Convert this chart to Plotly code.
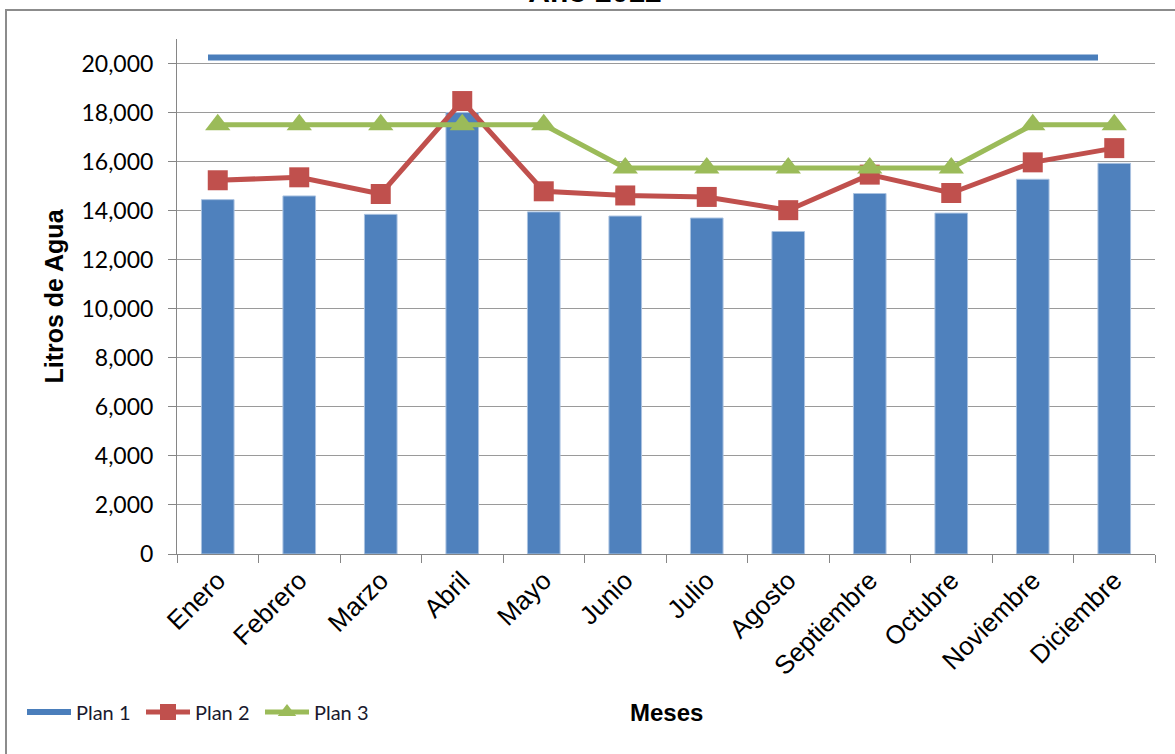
import plotly.graph_objects as go

# Monthly water consumption (litres) and the three plans
meses = ["Enero", "Febrero", "Marzo", "Abril", "Mayo", "Junio", "Julio",
         "Agosto", "Septiembre", "Octubre", "Noviembre", "Diciembre"]
consumo = [14450, 14600, 13850, 18000, 13950, 13780, 13700,
           13150, 14700, 13900, 15280, 15930]
plan_1 = [20250] * 12
plan_2 = [15240, 15360, 14680, 18470, 14790, 14620, 14560,
          14020, 15470, 14720, 15970, 16550]
plan_3 = [17500, 17500, 17500, 17500, 17500, 15740, 15740,
          15740, 15740, 15740, 17500, 17500]
y_ticks = list(range(0, 20001, 2000))

W, H = 1175, 754
ML, MR, MT, MB = 177, 20, 39, 200
PW, PH = W - ML - MR, H - MT - MB


def px_x(p):
    return (p - ML) / PW


def px_y(p):
    return (H - MB - p) / PH


# Plan 1 sits on its own category axis, spanning 208..1098 px
p1_step = (1098 - 208) / 11
p1_range = [-(208 - ML) / p1_step, 11 + (ML + PW - 1098) / p1_step]

fig = go.Figure()

fig.add_trace(go.Bar(
    x=meses, y=consumo, width=0.4, showlegend=False,
    marker=dict(color="#4F81BD", line=dict(color="#A9C2E0", width=1)),
))
fig.add_trace(go.Scatter(
    x=meses, y=plan_1, name="Plan 1", mode="lines", xaxis="x2",
    line=dict(color="#4A7EBB", width=6),
))
fig.add_trace(go.Scatter(
    x=meses, y=plan_2, name="Plan 2", mode="lines+markers",
    line=dict(color="#C0504D", width=5),
    marker=dict(symbol="square", size=20, color="#C0504D",
                line=dict(color="#C0504D", width=0)),
))
fig.add_trace(go.Scatter(
    x=meses, y=plan_3, name="Plan 3", mode="lines+markers",
    line=dict(color="#9BBB59", width=5),
    marker=dict(symbol="triangle-up", size=22, color="#9BBB59",
                line=dict(color="#9BBB59", width=0)),
))

fig.update_layout(
    width=W, height=H,
    margin=dict(l=ML, r=MR, t=MT, b=MB),
    paper_bgcolor="white", plot_bgcolor="white",
    bargap=0.6,
    showlegend=True,
    legend=dict(
        orientation="h", x=px_x(22), y=px_y(712), xanchor="left", yanchor="middle",
        font=dict(family="Lato", size=20, color="#1a1a2e"),
        itemwidth=44, tracegroupgap=0, bgcolor="rgba(0,0,0,0)",
        entrywidth=60, entrywidthmode="pixels",
    ),
    title=dict(
        text="<b>Año 2012</b>", x=595 / W, xanchor="center",
        y=1 - 2 / H, yanchor="bottom", yref="container",
        font=dict(family="Arial", size=30, color="black"),
    ),
    xaxis=dict(
        type="category", range=[-0.5, 11.5],
        tickangle=-45, tickfont=dict(family="Arial", size=26, color="black"),
        ticks="outside", tickson="boundaries", ticklen=8, tickcolor="#868686",
        showline=True, linecolor="#868686", linewidth=1,
        showgrid=False,
    ),
    xaxis2=dict(
        type="category", range=p1_range, overlaying="x", visible=False,
        showgrid=False,
    ),
    yaxis=dict(
        range=[0, 21000], tickvals=y_ticks, tickformat=",d",
        tickfont=dict(family="Lato", size=23, color="black"),
        ticks="outside", ticklen=8, tickcolor="#868686",
        ticklabelstandoff=10,
        showline=True, linecolor="#868686", linewidth=1,
        showgrid=True, gridcolor="#9A9A9A", gridwidth=1,
        zeroline=False,
        title=dict(text="<b>Litros de Agua</b>", standoff=10,
                   font=dict(family="Arial", size=25, color="black")),
    ),
)

# "Meses" title placed level with the legend
fig.add_annotation(
    text="<b>Meses</b>", xref="paper", yref="paper",
    x=px_x(666), y=px_y(712), xanchor="center", yanchor="middle",
    showarrow=False, font=dict(family="Arial", size=24, color="black"),
)

# Chart frame
fig.add_shape(
    type="rect", xref="paper", yref="paper",
    x0=px_x(6), x1=px_x(1190), y0=px_y(770), y1=px_y(10),
    line=dict(color="#8C8C8C", width=2), fillcolor="rgba(0,0,0,0)", layer="below",
)

fig.write_html("out.html")
